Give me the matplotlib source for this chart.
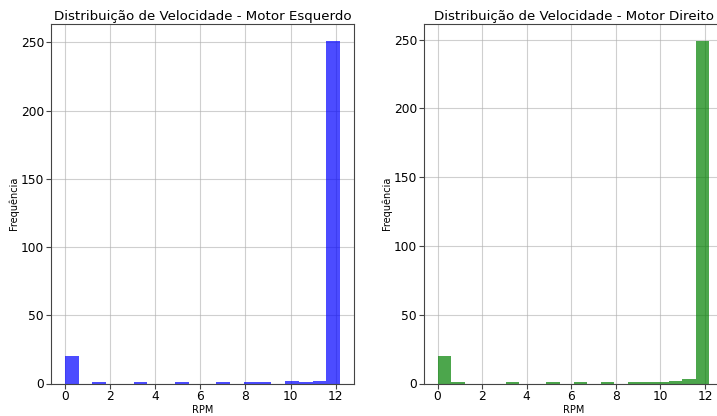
import numpy as np
import matplotlib
matplotlib.use('Agg')
import matplotlib.pyplot as plt

# histogram: 20 bins between 0 and max RPM
RPM_MAX = 12.2
N_BINS = 20
counts_esquerdo = [20, 0, 1, 0, 0, 1, 0, 0, 1, 0, 0, 1, 0, 1, 1, 0, 2, 1, 2, 251]
counts_direito = [20, 1, 0, 0, 0, 1, 0, 0, 1, 0, 1, 0, 1, 0, 1, 1, 1, 2, 3, 249]

edges = np.linspace(0, RPM_MAX, N_BINS + 1)
centers = (edges[:-1] + edges[1:]) / 2

fig = plt.figure(figsize=(7.17, 4.16), dpi=100)
ax1 = fig.add_axes([51 / 717, 32.5 / 416, 303 / 717, 359.5 / 416])
ax2 = fig.add_axes([424 / 717, 32.5 / 416, 299 / 717, 359.5 / 416])

panels = [
    (ax1, counts_esquerdo, 'blue', 'Distribuição de Velocidade - Motor Esquerdo'),
    (ax2, counts_direito, 'green', 'Distribuição de Velocidade - Motor Direito'),
]

for ax, counts, color, title in panels:
    ax.hist(centers, bins=edges, weights=counts, color=color, alpha=0.7)
    ax.set_title(title, fontsize=9.6, pad=3)
    ax.set_xlabel('RPM', fontsize=7, labelpad=1)
    ax.set_ylabel('Frequência', fontsize=7, labelpad=1.5)
    ax.tick_params(labelsize=8.8, length=3.5, pad=1.5, color='#444444')
    ax.set_xticks([0, 2, 4, 6, 8, 10, 12])
    ax.grid(True, alpha=0.6)
    ax.set_axisbelow(True)
    for sp in ax.spines.values():
        sp.set_color('#444444')

fig.savefig('out.png', dpi=100)
